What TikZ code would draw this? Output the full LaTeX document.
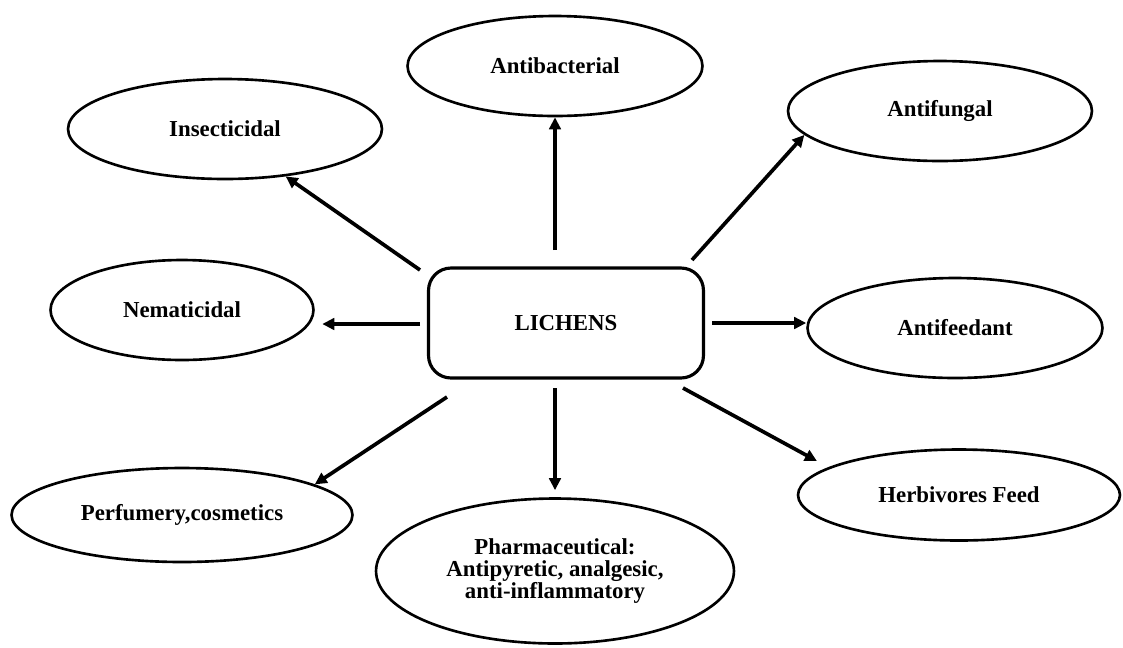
\documentclass[tikz,border=0pt]{standalone}
\usepackage{fontspec}
\setmainfont{Liberation Serif}
\usepackage{tikz}
\usetikzlibrary{shapes.geometric,arrows.meta}

\begin{document}
\begin{tikzpicture}[x=0.02cm,y=-0.02cm,
  every node/.style={font=\bfseries\fontsize{13}{12.3}\selectfont,align=center},
  oval/.style={ellipse,draw,line width=1.5pt,inner sep=0pt,minimum height=2cm},
  centre/.style={rectangle,draw,rounded corners=0.45cm,line width=1.8pt,minimum width=5.5cm,minimum height=2.2cm},
  arr/.style={-{Triangle[length=2.4mm,width=2.3mm]},line width=2.1pt}]
  \useasboundingbox (0,0) rectangle (1123,647);
  \node[centre] (lichens) at (566,323) {LICHENS};
  \node[oval,minimum width=5.9cm] (antib) at (555,66) {Antibacterial};
  \node[oval,minimum width=6.28cm] (insect) at (225,129) {Insecticidal};
  \node[oval,minimum width=6.08cm] (antif) at (940,111) {Antifungal};
  \node[oval,minimum width=5.26cm] (nema) at (182,310) {Nematicidal};
  \node[oval,minimum width=5.9cm] (feed) at (955,328) {Antifeedant};
  \node[oval,minimum width=6.44cm,minimum height=1.82cm] (herb) at (959,495) {Herbivores Feed};
  \node[oval,minimum width=6.82cm,minimum height=1.88cm] (perf) at (182,515) {Perfumery,cosmetics};
  \node[oval,minimum width=7.16cm,minimum height=2.9cm] (pharm) at (555,571) {Pharmaceutical:\\ Antipyretic, analgesic,\\ anti-inflammatory};

  \coordinate (l-n) at (555,250);
  \coordinate (l-nw) at (420,270);
  \coordinate (l-ne) at (692,260);
  \coordinate (l-w) at (420,324);
  \coordinate (l-e) at (712,323);
  \coordinate (l-se) at (683,388);
  \coordinate (l-s) at (555,388);
  \coordinate (l-sw) at (447,397);

  \path[arr]
    (l-n) edge (antib)
    (l-nw) edge (insect.-38)
    (l-ne) edge (antif.190)
    (l-w) edge[shorten >=0.15cm] (nema.east |- l-w)
    (l-e) edge (feed.west |- l-e);
  \path[arr]
    (l-se) edge[shorten >=0.26cm] (herb.168)
    (l-s) edge[shorten >=0.14cm] (pharm)
    (l-sw) edge (perf.13);
\end{tikzpicture}
\end{document}
